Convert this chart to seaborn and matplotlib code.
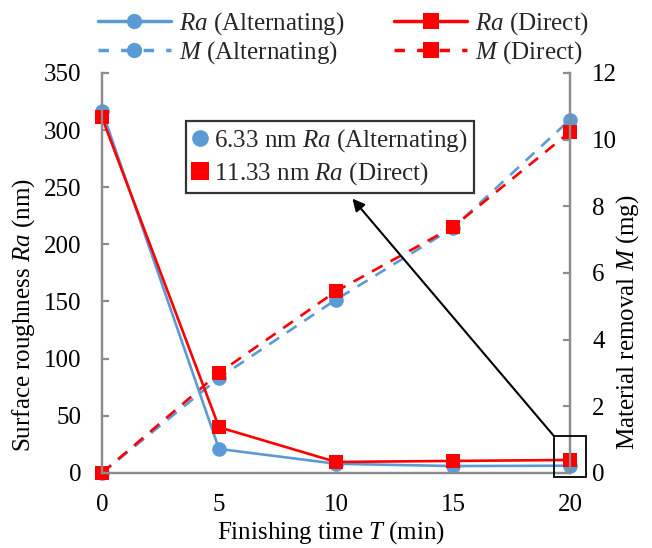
import matplotlib
matplotlib.use("Agg")
import matplotlib.pyplot as plt
import seaborn as sns
import pandas as pd
from matplotlib.lines import Line2D
from matplotlib.patches import Rectangle

sns.set_theme(style="white", font="serif")
plt.rcParams['font.family'] = 'serif'
plt.rcParams['font.serif'] = ['Liberation Serif', 'DejaVu Serif']
plt.rcParams['mathtext.fontset'] = 'custom'
plt.rcParams['mathtext.it'] = 'Liberation Serif:italic'
plt.rcParams['mathtext.rm'] = 'Liberation Serif'
plt.rcParams['mathtext.bf'] = 'Liberation Serif:bold'

time_min = [0, 5, 10, 15, 20]
ra_alternating = [317, 21, 8, 6, 6.33]
ra_direct = [311, 40, 9.6, 10.5, 11.33]
m_alternating = [0, 2.85, 5.2, 7.35, 10.6]
m_direct = [0, 3.0, 5.45, 7.38, 10.23]

left_ticks = [0, 50, 100, 150, 200, 250, 300, 350]
right_ticks = [0, 2, 4, 6, 8, 10, 12]
x_ticks = [0, 5, 10, 15, 20]

BLUE = "#5B9BD5"
RED = "#FF0000"
GRAY = "#8C8C8C"
FS = 18
FAM = 'Liberation Serif'
MS_C = 10.5
MS_S = 10.5

fig = plt.figure(figsize=(6.52, 5.48), dpi=100)
ax = fig.add_axes([0.1564, 0.137, 0.718, 0.730])
ax2 = ax.twinx()

df = pd.DataFrame({"T": time_min, "ra_a": ra_alternating, "ra_d": ra_direct,
                   "m_a": m_alternating, "m_d": m_direct})

kw_dash = dict(lw=1.9, markeredgewidth=0, linestyle=(0, (4.5, 3.5)), clip_on=False)
sns.lineplot(data=df, x="T", y="m_a", ax=ax2, color=BLUE, marker="o",
             markersize=MS_C, **kw_dash)
sns.lineplot(data=df, x="T", y="m_d", ax=ax2, color=RED, marker="s",
             markersize=MS_S, **kw_dash)
ax2.set_zorder(1)
ax.set_zorder(2)
ax.patch.set_visible(False)
kw_solid = dict(lw=1.9, markeredgewidth=0, clip_on=False)
sns.lineplot(data=df, x="T", y="ra_a", ax=ax, color=BLUE, marker="o",
             markersize=MS_C, **kw_solid)
sns.lineplot(data=df, x="T", y="ra_d", ax=ax, color=RED, marker="s",
             markersize=MS_S, **kw_solid)

ax.set_xlim(0, 20)
ax.set_ylim(0, 350)
ax2.set_ylim(0, 12)
ax.set_xticks(x_ticks)
ax.set_yticks(left_ticks)
ax2.set_yticks(right_ticks)

for a in (ax, ax2):
    for s in a.spines.values():
        s.set_color(GRAY)
        s.set_linewidth(1.6)
    a.spines['top'].set_visible(False)
    a.tick_params(direction='in', length=5, width=1.6, color=GRAY,
                  labelsize=FS, labelcolor='black')
    for lab in a.get_xticklabels() + a.get_yticklabels():
        lab.set_fontfamily(FAM)
ax.tick_params(axis='x', pad=15)
ax.tick_params(axis='y', pad=15)
ax2.tick_params(axis='y', pad=16)

ax.set_xlabel(r"Finishing time $\mathit{T}$ (min)", fontsize=FS, color='black', family=FAM)
ax.set_ylabel(r"Surface roughness $\mathit{Ra}$ (nm)", fontsize=FS, color='black', family=FAM)
ax2.set_ylabel(r"Material removal $\mathit{M}$ (mg)", fontsize=FS, color='black', family=FAM)
ax.xaxis.set_label_coords(0.49, -0.116)
ax.yaxis.set_label_coords(-0.139, 0.395)
ax2.yaxis.set_label_coords(1.094, 0.378)

handles = [
    Line2D([], [], color=BLUE, lw=2.5, marker='o', markersize=11, markeredgewidth=0),
    Line2D([], [], color=BLUE, lw=2.5, marker='o', markersize=11, markeredgewidth=0, linestyle=(0, (3, 3.5))),
    Line2D([], [], color=RED, lw=2.5, marker='s', markersize=11, markeredgewidth=0),
    Line2D([], [], color=RED, lw=2.5, marker='s', markersize=11, markeredgewidth=0, linestyle=(0, (3, 3.5))),
]
labels = [r"$\mathit{Ra}$ (Alternating)", r"$\mathit{M}$ (Alternating)",
          r"$\mathit{Ra}$ (Direct)", r"$\mathit{M}$ (Direct)"]
leg = fig.legend(handles, labels, loc='center', bbox_to_anchor=(0.527, 0.93),
                 ncol=2, frameon=False, prop={'family': FAM, 'size': FS},
                 handlelength=2.9, columnspacing=2.0, labelspacing=0.08,
                 handletextpad=0.32, borderpad=0)

# annotation box (inset legend)
inset_handles = [
    Line2D([], [], color=BLUE, lw=0, marker='o', markersize=12, markeredgewidth=0),
    Line2D([], [], color=RED, lw=0, marker='s', markersize=13, markeredgewidth=0),
]
inset_labels = [r"6.33 nm $\mathit{Ra}$ (Alternating)", r"11.33 nm $\mathit{Ra}$ (Direct)"]
leg2 = ax.legend(inset_handles, inset_labels, loc='upper left',
                 bbox_to_anchor=(0.18, 0.88), frameon=True,
                 prop={'family': FAM, 'size': FS},
                 handlelength=0.6, handletextpad=0.25, labelspacing=0.25,
                 borderpad=0.25, fancybox=False, borderaxespad=0)
leg2.get_frame().set_edgecolor('black')
leg2.get_frame().set_linewidth(1.6)
leg2.set_zorder(5)

rect = Rectangle((19.3, -3.5), 1.4, 36, fill=False, edgecolor='black', lw=1.3,
                 clip_on=False, zorder=6)
ax.add_patch(rect)
ax.annotate("", xy=(10.7, 240), xytext=(19.3, 32.5),
            arrowprops=dict(arrowstyle='-|>', color='black', lw=1.5,
                            mutation_scale=18, shrinkA=0, shrinkB=0),
            zorder=6)

fig.savefig("out.png", dpi=100)
